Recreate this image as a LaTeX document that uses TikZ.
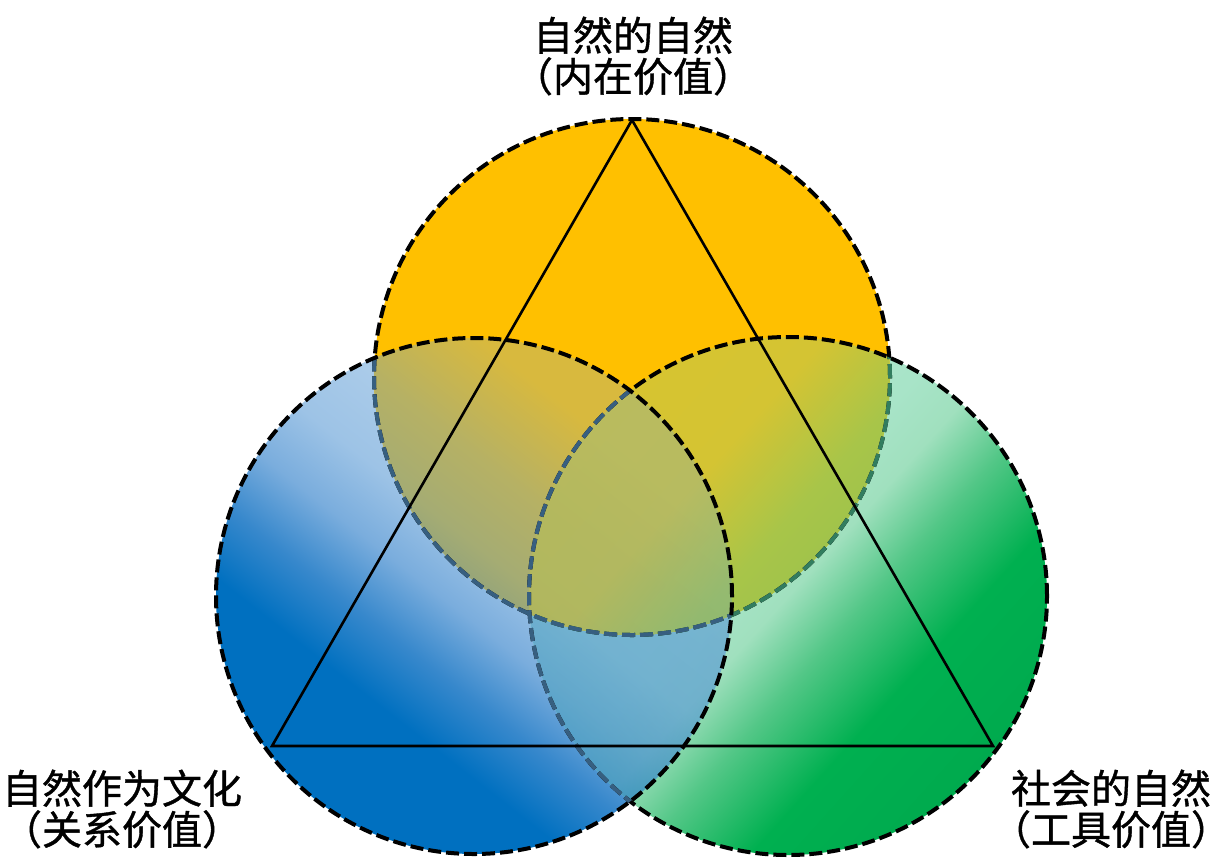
\documentclass[tikz,border=0pt]{standalone}
\usepackage{fontspec}
\newfontfamily\cjk[FakeBold=1]{Noto Sans CJK SC}
% colours
\definecolor{orangeO}{RGB}{255,192,0}
\definecolor{fadeB}{RGB}{55,95,128}
\definecolor{fadeG}{RGB}{50,125,95}
% blue over white
\definecolor{wb1}{RGB}{0,112,192}
\definecolor{wb2}{RGB}{55,136,204}
\definecolor{wb3}{RGB}{122,173,221}
\definecolor{wb4}{RGB}{157,195,230}
\definecolor{wb5}{RGB}{170,203,233}
\definecolor{wb6}{RGB}{175,206,234}
% blue over orange
\definecolor{ob2}{RGB}{60,128,160}
\definecolor{ob3}{RGB}{135,158,128}
\definecolor{ob4}{RGB}{165,172,115}
\definecolor{ob5}{RGB}{182,177,100}
\definecolor{ob6}{RGB}{216,185,62}
% blue colour itself
\definecolor{cb2}{RGB}{20,115,195}
\definecolor{cb3}{RGB}{60,135,205}
\definecolor{cb4}{RGB}{86,152,212}
\definecolor{cb5}{RGB}{91,155,213}
\definecolor{cb6}{RGB}{110,165,215}
% green over white
\definecolor{wg1}{RGB}{0,170,78}
\definecolor{wg2}{RGB}{0,176,80}
\definecolor{wg3}{RGB}{83,199,135}
\definecolor{wg4}{RGB}{160,224,190}
\definecolor{wg5}{RGB}{168,228,200}
\definecolor{wg6}{RGB}{172,230,204}
\definecolor{wg7}{RGB}{175,231,206}
% green over orange
\definecolor{og3}{RGB}{83,186,84}
\definecolor{og4}{RGB}{160,195,75}
\definecolor{og5}{RGB}{168,197,73}
\definecolor{og6}{RGB}{212,196,51}
\definecolor{og7}{RGB}{215,196,48}
\pgfdeclarehorizontalshading{blueW}{100bp}{color(0bp)=(wb1); color(36bp)=(wb1); color(42bp)=(wb2); color(48bp)=(wb3); color(54bp)=(wb4); color(61bp)=(wb5); color(70bp)=(wb6); color(100bp)=(wb6)}
\pgfdeclarehorizontalshading{blueO}{100bp}{color(0bp)=(wb1); color(36bp)=(wb1); color(42bp)=(ob2); color(48bp)=(ob3); color(54bp)=(ob4); color(61bp)=(ob5); color(70bp)=(ob6); color(100bp)=(ob6)}
\pgfdeclarehorizontalshading{blueC}{100bp}{color(0bp)=(wb1); color(36bp)=(wb1); color(42bp)=(cb2); color(48bp)=(cb3); color(54bp)=(cb4); color(61bp)=(cb5); color(70bp)=(cb6); color(100bp)=(cb6)}
\pgfdeclarehorizontalshading{greenW}{100bp}{color(0bp)=(wg1); color(25bp)=(wg1); color(36bp)=(wg2); color(44bp)=(wg3); color(50bp)=(wg4); color(55bp)=(wg5); color(64bp)=(wg6); color(75bp)=(wg7); color(100bp)=(wg7)}
\pgfdeclarehorizontalshading{greenO}{100bp}{color(0bp)=(wg1); color(25bp)=(wg1); color(36bp)=(wg2); color(44bp)=(og3); color(50bp)=(og4); color(55bp)=(og5); color(64bp)=(og6); color(75bp)=(og7); color(100bp)=(og7)}
\tikzset{
  rim/.style={draw=black, line width=4pt, dash pattern=on 13pt off 5pt},
  edge/.style={draw=black, line width=2.6pt, line join=miter},
  lab/.style={font=\cjk\fontsize{40}{41}\selectfont, align=center, inner sep=0pt}
}
\begin{document}
\begin{tikzpicture}[x=1pt,y=-1pt]
\fill[white] (0,0) rectangle (1231,863);
\useasboundingbox (0,0) rectangle (1231,863);
\coordinate (O) at (632,377);
\coordinate (G) at (788,596);
\coordinate (B) at (474,596);
\coordinate (tA) at (632,120);
\coordinate (tB) at (272,746);
\coordinate (tC) at (993,746);
% ---- fills ----
\shade[shading=blueW, shading angle=52] (B) circle (258pt);
\shade[shading=greenW, shading angle=138] (G) circle (259pt);
\begin{scope}
  \clip (G) circle (259pt);
  \shade[shading=blueC, shading angle=52, fill opacity=0.65] (B) circle (258pt);
\end{scope}
\fill[orangeO] (O) circle (258pt);
\begin{scope}
  \clip (O) circle (258pt);
  \shade[shading=blueO, shading angle=52] (B) circle (258pt);
\end{scope}
\begin{scope}
  \clip (O) circle (258pt);
  \shade[shading=greenO, shading angle=138] (G) circle (259pt);
  \clip (G) circle (259pt);
  \clip (B) circle (258pt);
  \shade[shading=blueC, shading angle=52, fill opacity=0.28] (B) circle (258pt);
\end{scope}
% ---- borders ----
\path[rim] (O) circle (258pt);
\begin{scope}
  \clip (G) circle (259pt);
  \path[rim, draw=fadeG] (O) circle (258pt);
\end{scope}
\path[rim] (G) circle (259pt);
\begin{scope}
  \clip (B) circle (258pt);
  \path[rim, draw=fadeB] (O) circle (258pt);
  \path[rim, draw=fadeB] (G) circle (259pt);
\end{scope}
\path[rim] (B) circle (258pt);
% triangle
\draw[edge] (tA) -- (tB) -- (tC) -- cycle;
% labels
\node[lab] (top) at (633,56) {自然的自然\\（内在价值）};
\node[lab] (left) at (122,809) {自然作为文化\\（关系价值）};
\node[lab] (right) at (1111,809) {社会的自然\\（工具价值）};
\end{tikzpicture}
\end{document}
